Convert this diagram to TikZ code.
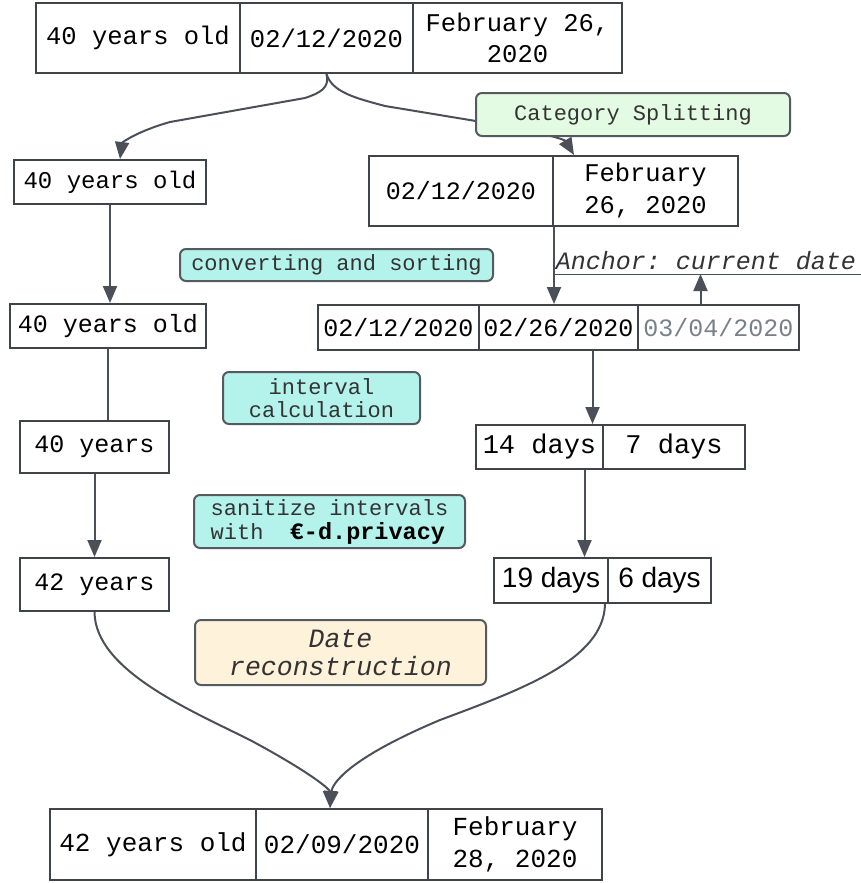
\documentclass[tikz,border=0pt]{standalone}
\usepackage{fontspec}
\setmonofont{Liberation Mono}
\newfontfamily\sansf{Liberation Sans}
\usetikzlibrary{arrows.meta,backgrounds}
\definecolor{linec}{HTML}{4B5058}
\definecolor{boxc}{HTML}{3F444B}
\definecolor{lblc}{HTML}{555A61}
\definecolor{greenf}{HTML}{E3FBE3}
\definecolor{tealf}{HTML}{B4F3EB}
\definecolor{tanf}{HTML}{FFF2DA}
\definecolor{graytxt}{HTML}{7A8089}
\definecolor{txtc}{HTML}{333333}
\newcommand\fsz[2]{\fontsize{#1}{#2}\selectfont}
\tikzset{
  cell/.style={draw=boxc, line width=2pt, inner sep=0pt, align=center, font=\ttfamily\fsz{25}{31}},
  lbl/.style={draw=lblc, line width=2pt, rounded corners=6pt, inner sep=0pt, align=center, text=txtc, font=\ttfamily\fsz{22}{23}},
  conn/.style={draw=linec, line width=2pt, -{Triangle[length=17pt,width=14pt]}},
  plain/.style={draw=linec, line width=2pt},
}
\begin{document}
\begin{tikzpicture}[x=1pt,y=-1pt]
\useasboundingbox (0,0) rectangle (861,883);
% top
\node[cell, minimum width=204, minimum height=70, font=\ttfamily\fsz{25.5}{31}] (t1) at (138,38) {40 years old};
\node[cell, minimum width=173, minimum height=70, font=\ttfamily\fsz{25.5}{31}] (t2) at (326.5,38) {02/12/2020};
\node[cell, minimum width=209, minimum height=70, font=\ttfamily\fsz{25.5}{31}] (t3) at (517.5,38) {February 26,\\2020};
% row 2
\node[cell, minimum width=192, minimum height=44, font=\ttfamily\fsz{24}{30}] (l2) at (110,182) {40 years old};
\node[cell, minimum width=184, minimum height=70] (r2a) at (461,191) {02/12/2020};
\node[cell, minimum width=185, minimum height=70, font=\ttfamily\fsz{25.5}{32}] (r2b) at (645.5,191) {February\\26, 2020};
% row 3
\node[cell, minimum width=196, minimum height=44] (l3) at (108,326) {40 years old};
\node[cell, minimum width=161, minimum height=45] (r3a) at (398.5,327.5) {02/12/2020};
\node[cell, minimum width=159, minimum height=45] (r3b) at (558.5,327.5) {02/26/2020};
\node[cell, minimum width=161, minimum height=45, text=graytxt] (r3c) at (718.5,327.5) {03/04/2020};
% anchor label
\node[inner sep=0pt, font=\ttfamily\itshape\fsz{25}{30}, text=txtc] (anch) at (706,261) {Anchor: current date};
\coordinate (ulL) at (553,274);
\coordinate (ulR) at (861,274);
% row 4
\node[cell, minimum width=149, minimum height=52] (l4) at (94.5,447) {40 years};
\node[cell, minimum width=127, minimum height=44, font=\ttfamily\fsz{27}{32}] (r4a) at (539.5,447) {14 days};
\node[cell, minimum width=142, minimum height=44, font=\ttfamily\fsz{27}{32}] (r4b) at (674,447) {7 days};
% row 5
\node[cell, minimum width=149, minimum height=53] (l5) at (94.5,584.5) {42 years};
\node[cell, minimum width=114, minimum height=45, font=\sansf\fsz{28}{32}] (r5a) at (551,580.5) {19 days};
\node[cell, minimum width=103, minimum height=45, font=\sansf\fsz{28}{32}] (r5b) at (659.5,580.5) {6 days};
% bottom
\node[cell, minimum width=206, minimum height=71, font=\ttfamily\fsz{26}{32}] (b1) at (153,844.5) {42 years old};
\node[cell, minimum width=172, minimum height=71, font=\ttfamily\fsz{26}{32}] (b2) at (342,844.5) {02/09/2020};
\node[cell, minimum width=174, minimum height=71, font=\ttfamily\fsz{26}{32}] (b3) at (515,844.5) {February\\28, 2020};
% connectors
\begin{scope}[on background layer]
\draw[conn] (t2.south) .. controls (330,88) and (320,93) .. (305,98) -- (170,122) .. controls (135,132) and (122,143) .. ([xshift=10pt]l2.north);
\draw[conn] (t2.south) .. controls (332,92) and (355,98) .. (385,106) -- (500,125) .. controls (545,133) and (565,140) .. ([xshift=22pt]r2b.north west);
\end{scope}
\draw[conn] (l2.south) -- (l2.south |- l3.north);
\draw[conn] (r2a.south east) -- (r2a.south east |- r3b.north);
\draw[line width=1pt, draw=linec] (ulL) -- (ulR);
\draw[conn] ([xshift=-18pt]r3c.north) -- ([xshift=-18pt]r3c.north |- ulL);
\draw[plain] (l3.south) -- (l3.south |- l4.north);
\draw[conn] ([xshift=34pt]r3b.south) -- ([xshift=34pt]r3b.south |- r4a.north);
\draw[conn] (l4.south) -- (l4.south |- l5.north);
\draw[conn] ([xshift=45pt]r4a.south) -- ([xshift=45pt]r4a.south |- r5a.north);
\draw[conn] (l5.south) .. controls (95,670) and (190,710) .. (250,740) .. controls (315,775) and (330,790) .. ([xshift=-12pt]b2.north);
\draw[conn] ([xshift=-4pt]r5a.south east) .. controls (604,660) and (520,690) .. (440,720) .. controls (345,760) and (332,785) .. ([xshift=-12pt]b2.north);
% label boxes
\node[lbl, fill=greenf, minimum width=314, minimum height=43] (cat) at (633,114.5) {Category Splitting};
\node[lbl, fill=tealf, minimum width=313, minimum height=32] (conv) at (336.5,265) {converting and sorting};
\node[lbl, fill=tealf, minimum width=197, minimum height=52] (intv) at (321.5,398) {interval\\calculation};
\node[lbl, fill=tealf, minimum width=271, minimum height=53, align=left, font=\ttfamily\fsz{22}{24}] (sani) at (329.5,521.5) {sanitize intervals\\with\ \ {\color{black}\bfseries\fsz{23.5}{24}€-d.privacy}};
\node[lbl, fill=tanf, minimum width=291, minimum height=65, font=\ttfamily\itshape\fsz{26.5}{28}] (recon) at (340.5,652.5) {Date\\reconstruction};
\end{tikzpicture}
\end{document}
